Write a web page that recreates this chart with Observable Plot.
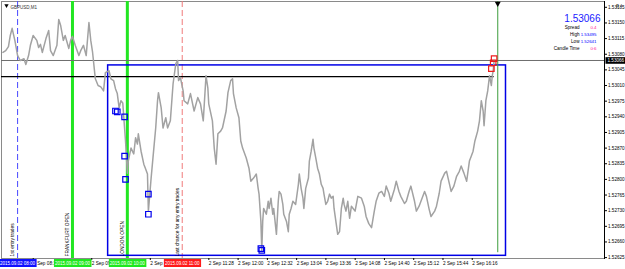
<!DOCTYPE html>
<html><head><meta charset="utf-8">
<script src="https://cdn.jsdelivr.net/npm/d3@7"></script>
<script src="https://cdn.jsdelivr.net/npm/@observablehq/plot@0.6"></script>
<style>
body{margin:0;background:#fff;}
#chart{width:625px;height:269px;overflow:hidden;}
</style></head><body><div id="chart"></div>
<script>
// ---- data (minutes since midnight, 2 Sep 2015; GBPUSD M1) ----
const symbol = "GBPUSD,M1";
const minutes = [
 464,467,470,472,474,477,480,483,487,489,
 492,494,497,501,503,505,507,511,514,516,
 519,523,525,527,530,532,536,538,540,543,
 547,549,552,555,558,560,562,565,568,571,
 574,576,580,582,585,587,589,591,593,595,
 596,598,600,601,604,607,609,611,612,615,
 618,620,622,623,626,628,631,633,634,637,
 639,642,644,647,650,653,655,656,658,661,
 662,666,669,673,677,680,683,686,688,689,
 693,695,697,699,702,704,708,710,713,715,
 716,719,722,724,726,730,733,735,738,741,
 743,744,746,747,748,749,752,754,755,757,
 759,760,763,765,766,768,770,771,774,776,
 777,779,781,784,787,788,790,792,793,795,
 798,799,801,803,804,806,808,810,812,814,
 815,817,819,821,823,825,826,828,830,832,
 834,836,837,839,841,843,845,849,852,856,
 859,861,864,867,870,872,875,878,881,883,
 886,888,892,894,897,899,903,905,908,910,
 914,916,919,921,925,927,930,932,936,938,
 941,943,947,949,952,954,957,960,963,965,
 968,971,974,976,978,980,983,985,987,989,
 990,992,994,996,998,999,1000,1001];
const prices = [
 1.53084,1.53088,1.53097,1.53122,1.53138,1.53111,1.53077,1.53066,1.53070,1.53057,
 1.53077,1.53100,1.53122,1.53111,1.53095,1.53102,1.53084,1.53115,1.53133,1.53088,
 1.53077,1.53100,1.53158,1.53145,1.53111,1.53122,1.53093,1.53111,1.53120,1.53100,
 1.53077,1.53088,1.53100,1.53077,1.53151,1.53111,1.53084,1.53025,1.53010,1.53007,
 1.52998,1.53039,1.53043,1.53025,1.53021,1.53003,1.52992,1.52960,1.52976,1.52971,
 1.52942,1.52886,1.52814,1.52841,1.52870,1.52857,1.52893,1.52879,1.52902,1.52863,
 1.52834,1.52823,1.52812,1.52729,1.52803,1.52848,1.52915,1.52976,1.52994,1.52960,
 1.52915,1.52938,1.52915,1.52931,1.53014,1.53059,1.53066,1.53021,1.53028,1.52998,
 1.52976,1.52969,1.52992,1.52953,1.52983,1.52969,1.52931,1.53032,1.53005,1.52969,
 1.52931,1.52870,1.52834,1.52902,1.52908,1.52915,1.52953,1.52994,1.53021,1.53025,
 1.52992,1.52960,1.52938,1.52886,1.52870,1.52848,1.52825,1.52796,1.52803,1.52812,
 1.52780,1.52767,1.52706,1.52641,1.52706,1.52735,1.52722,1.52751,1.52735,1.52758,
 1.52722,1.52735,1.52677,1.52751,1.52773,1.52767,1.52744,1.52722,1.52706,1.52683,
 1.52722,1.52735,1.52751,1.52744,1.52789,1.52812,1.52780,1.52758,1.52735,1.52780,
 1.52803,1.52841,1.52863,1.52890,1.52870,1.52848,1.52825,1.52812,1.52789,1.52780,
 1.52767,1.52744,1.52751,1.52767,1.52758,1.52762,1.52735,1.52706,1.52677,1.52683,
 1.52735,1.52758,1.52744,1.52729,1.52751,1.52713,1.52740,1.52729,1.52762,1.52758,
 1.52740,1.52717,1.52701,1.52692,1.52729,1.52751,1.52769,1.52773,1.52762,1.52785,
 1.52769,1.52751,1.52778,1.52796,1.52773,1.52762,1.52746,1.52751,1.52773,1.52785,
 1.52751,1.52729,1.52740,1.52751,1.52773,1.52762,1.52733,1.52717,1.52729,1.52740,
 1.52769,1.52796,1.52814,1.52818,1.52791,1.52773,1.52785,1.52807,1.52818,1.52830,
 1.52814,1.52796,1.52841,1.52852,1.52863,1.52886,1.52908,1.52931,1.52976,1.52953,
 1.52920,1.52976,1.52998,1.53032,1.53010,1.53032,1.53043,1.53066];

// fractal-style markers
const blueMarkTimes  = [587,589,597,597,598,623,623,746,747];
const blueMarkPrices = [1.52953,1.52951,1.52940,1.52852,1.52800,1.52767,1.52722,1.52645,1.52641];
const redMarkTimes   = [998,1000,1001];
const redMarkPrices  = [1.53048,1.53061,1.53070];

// event lines
const eventTimes  = [480,540,600,660];
const eventNames  = ["1st entry trades","FRANKFURT OPEN","LONDON OPEN","Last chance for any entry trades"];
const eventStamps = ["2015.09.02 08:00","2015.09.02 09:00","2015.09.02 10:00","2015.09.02 11:00"];
const eventColors = ["#4848ff","#22e622","#22e622","#f07b7b"];
const stampColors = ["#1010ff","#1ee81e","#1ee81e","#ff1a1a"];
const eventDashed = [true,false,false,true];

// levels and box
const bidPrice = 1.53066;
const levelPrice = 1.53030, levelEnd = 1001;
const boxStart = 579, boxEnd = 1014, boxLow = 1.52629, boxHigh = 1.53055;
const nowTime = 1005, nowLow = 1.52636;

// axes
const yTicks = [1.53185,1.53150,1.53115,1.53080,1.53045,1.53010,1.52975,1.52940,1.52905,1.52870,1.52835,1.52800,1.52765,1.52730,1.52695,1.52660,1.52625];
const xTicks = [496,560,624,688,720,752,784,816,848,880,912,944,976];
const xDomain = [462.4, 1121.7];
const yDomain = [1.52623, 1.53198];

// info panel
const infoLabels = ["Spread","High","Low","Candle Time"];
const infoValues = ["0.4","1.53495","1.52641","0:6"];
const infoColors = ["#ff1493","#0000ff","#0000ff","#ff1493"];

// ---- build ----
const pad2 = n => String(n).padStart(2,"0");
const fmtTime = m => `2 Sep ${pad2(Math.floor(m/60))}:${pad2(m%60)}`;
const series = minutes.map((m,i)=>({m, p: prices[i]}));
const blueMarks = blueMarkTimes.map((m,i)=>({m, p: blueMarkPrices[i]}));
const redMarks = redMarkTimes.map((m,i)=>({m, p: redMarkPrices[i]}));
const events = eventTimes.map((t,i)=>({t, name: eventNames[i], stamp: eventStamps[i], color: eventColors[i], box: stampColors[i], dashed: eventDashed[i]}));
const F = "Liberation Sans, Arial, sans-serif";
const lineTxt = (arr, keep) => arr.map((v,i)=> keep(i) ? v : "").join("\n");

const chart = Plot.plot({
  width: 625, height: 269,
  marginLeft: 1, marginRight: 21, marginTop: 1, marginBottom: 11,
  x: {domain: xDomain, axis: null},
  y: {domain: yDomain, axis: null},
  style: {fontFamily: F, background: "#fff", overflow: "visible"},
  marks: [
    Plot.frame({stroke: "#8a8a8a"}),
    Plot.ruleX(events.filter(d=>d.dashed), {x: "t", stroke: "color", strokeWidth: 1, strokeDasharray: "6,3"}),
    Plot.ruleX(events.filter(d=>!d.dashed), {x: "t", stroke: "color", strokeWidth: 3}),
    Plot.ruleY([bidPrice], {stroke: "#6e6e6e", strokeWidth: 1}),
    Plot.ruleY([levelPrice], {x1: xDomain[0], x2: levelEnd, stroke: "#000", strokeWidth: 1.2}),
    Plot.rect([{}], {x1: boxStart, x2: boxEnd, y1: boxLow, y2: boxHigh, fill: "none", stroke: "#0000e6", strokeWidth: 1.5}),
    Plot.ruleX([nowTime], {y1: nowLow, y2: yDomain[1], stroke: "#3c9c3c", strokeWidth: 1}),
    Plot.line(series, {x: "m", y: "p", stroke: "#a2a2a2", strokeWidth: 1.5}),
    Plot.dot(blueMarks, {x: "m", y: "p", symbol: "square", r: 3.1, fill: "none", stroke: "#0000ee", strokeWidth: 1.2}),
    Plot.dot(redMarks, {x: "m", y: "p", symbol: "square", r: 3.1, fill: "none", stroke: "#ee1c1c", strokeWidth: 1.2}),
    Plot.dot([nowTime], {x: d=>d, frameAnchor: "top", symbol: "triangle", rotate: 180, r: 2.2, fill: "#000", dy: 2}),
    // event captions (vertical)
    Plot.text(events, {x: "t", frameAnchor: "bottom", text: "name", rotate: -90, textAnchor: "start", dx: -3.5, dy: -2, fontSize: 4.8, fill: "#000"}),
    // y axis (right)
    Plot.axisY(yTicks, {anchor: "right", tickSize: 2, tickPadding: 1.5, fontSize: 4.6, tickFormat: d => d.toFixed(5), fill: "#000", stroke: "#000"}),
    Plot.frame({anchor: "right", stroke: "#000"}),
    // x axis (bottom)
    Plot.axisX(xTicks, {anchor: "bottom", tickSize: 2, tickPadding: 1, fontSize: 4.7, tickFormat: fmtTime, textAnchor: "start", dx: 1, fill: "#000", stroke: "#000"}),
    // date stamps of event lines
    Plot.text(events, {x: "t", frameAnchor: "bottom", dy: 6, text: "stamp", fill: "#fff", fontSize: 4.5, className: "stamp"}),
    // bid label on the price scale
    Plot.text([bidPrice], {y: d=>d, frameAnchor: "right", textAnchor: "start", dx: 3, text: d=>d.toFixed(5), fill: "#fff", fontSize: 4.6, className: "bidbox"}),
    // title
    Plot.dot([symbol], {frameAnchor: "top-left", symbol: "triangle", rotate: 180, r: 1.6, fill: "#000", dx: 5, dy: 4}),
    Plot.text([symbol], {frameAnchor: "top-left", text: d=>d, textAnchor: "start", dx: 9, dy: 4, fontSize: 4.5, fill: "#333"}),
    // info panel
    Plot.text([bidPrice], {frameAnchor: "top-right", text: d=>d.toFixed(5), textAnchor: "end", lineAnchor: "middle", dx: -4, dy: 17, fontSize: 10, fill: "#1a1aff"}),
    Plot.text([infoLabels.join("\n")], {frameAnchor: "top-right", text: d=>d, textAnchor: "end", lineAnchor: "top", lineHeight: 1.5, dx: -25, dy: 22.5, fontSize: 4.6, fill: "#000"}),
    Plot.text([lineTxt(infoValues, i=>infoColors[i]==="#ff1493")], {frameAnchor: "top-right", text: d=>d, textAnchor: "end", lineAnchor: "top", lineHeight: 1.568, dx: -8, dy: 22.5, fontSize: 4.4, fill: "#ff1493"}),
    Plot.text([lineTxt(infoValues, i=>infoColors[i]==="#0000ff")], {frameAnchor: "top-right", text: d=>d, textAnchor: "end", lineAnchor: "top", lineHeight: 1.568, dx: -8, dy: 22.5, fontSize: 4.4, fill: "#0000ff"})
  ]
});
document.getElementById("chart").append(chart);

// backgrounds behind boxed labels
function boxify(cls, fillOf, px, py){
  d3.select(chart).selectAll(`g.${cls} text`).each(function(_, i){
    const b = this.getBBox();
    const r = document.createElementNS("http://www.w3.org/2000/svg", "rect");
    r.setAttribute("x", b.x - px); r.setAttribute("y", b.y - py);
    r.setAttribute("width", b.width + 2*px); r.setAttribute("height", b.height + 2*py);
    r.setAttribute("fill", fillOf(i));
    r.setAttribute("stroke", "none");
    const tr = this.getAttribute("transform"); if (tr) r.setAttribute("transform", tr);
    this.parentNode.insertBefore(r, this);
  });
}
boxify("stamp", i => events[i].box, 1, 1.5);
boxify("bidbox", () => "#000", 2, 0.8);
</script></body></html>
